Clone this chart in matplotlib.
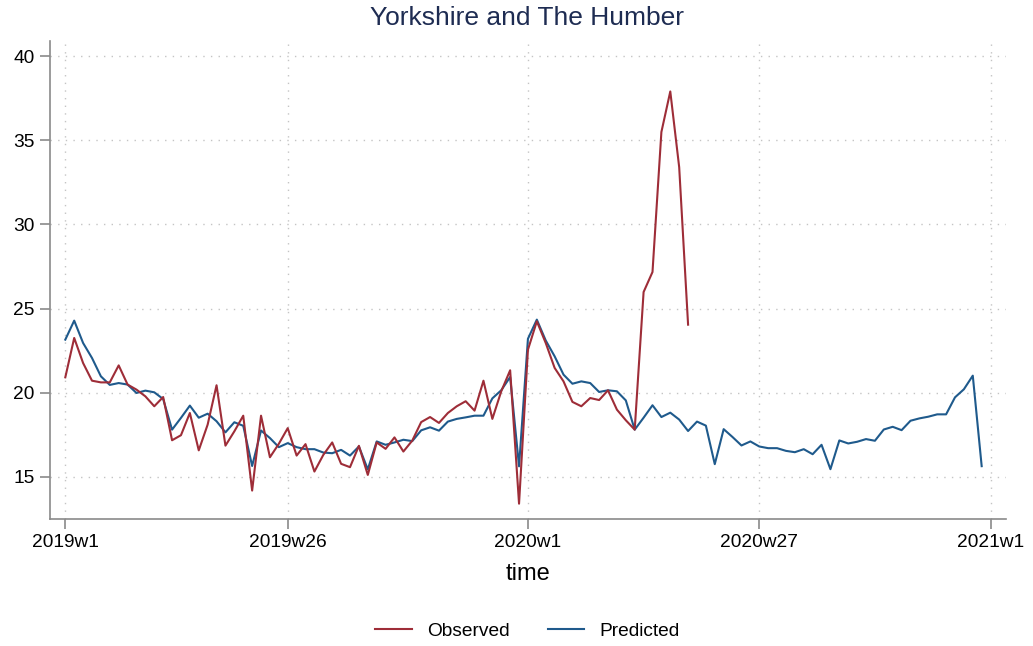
import matplotlib
matplotlib.use("Agg")
import matplotlib.pyplot as plt
import numpy as np

plt.rcParams["font.family"] = ["Liberation Sans", "DejaVu Sans"]

# ── Data: weekly values, index 0 = 2019w1 ─────────────────────────────────────
predicted = [
    23.15, 24.28, 22.95, 22.06, 20.97, 20.46, 20.57, 20.48, 19.98, 20.12,
    20.02, 19.62, 17.80, 18.50, 19.23, 18.51, 18.75, 18.30, 17.64, 18.24,
    18.03, 15.64, 17.75, 17.30, 16.76, 17.00, 16.76, 16.64, 16.64, 16.44,
    16.40, 16.60, 16.26, 16.80, 15.44, 17.10, 16.90, 17.04, 17.20, 17.12,
    17.76, 17.94, 17.74, 18.28, 18.44, 18.53, 18.63, 18.63, 19.66, 20.14,
    20.93, 15.62, 23.20, 24.34, 23.10, 22.16, 21.07, 20.53, 20.67, 20.57,
    20.04, 20.14, 20.08, 19.54, 17.80, 18.51, 19.25, 18.55, 18.81, 18.40,
    17.72, 18.28, 18.04, 15.75, 17.83, 17.36, 16.86, 17.10, 16.80, 16.70,
    16.70, 16.54, 16.46, 16.64, 16.34, 16.90, 15.45, 17.16, 16.98, 17.08,
    17.24, 17.14, 17.81, 17.97, 17.77, 18.33, 18.47, 18.57, 18.71, 18.71,
    19.72, 20.20, 21.01, 15.63,
]
observed = [
    20.91, 23.25, 21.76, 20.71, 20.61, 20.61, 21.62, 20.48, 20.18, 19.78,
    19.19, 19.74, 17.17, 17.47, 18.79, 16.57, 18.10, 20.44, 16.85, 17.70,
    18.63, 14.18, 18.63, 16.16, 16.96, 17.89, 16.26, 16.94, 15.31, 16.30,
    17.04, 15.77, 15.57, 16.84, 15.11, 17.04, 16.66, 17.34, 16.50, 17.15,
    18.25, 18.55, 18.20, 18.79, 19.19, 19.49, 18.93, 20.71, 18.44, 20.08,
    21.33, 13.40, 22.55, 24.24, 22.95, 21.47, 20.67, 19.45, 19.19, 19.68,
    19.56, 20.14, 18.99, 18.36, 17.80, 25.98, 27.17, 35.49, 37.90, 33.40,
    24.04,
]
xtick_pos = [0, 25, 52, 78, 104]
xtick_labels = ["2019w1", "2019w26", "2020w1", "2020w27", "2021w1"]
ytick_pos = [15, 20, 25, 30, 35, 40]

week_pred = np.arange(len(predicted))
week_obs = np.arange(len(observed))

red = "#9e2d38"
blue = "#1f5a8c"
gray = "#8a8a8a"

# ── Plot ──────────────────────────────────────────────────────────────────────
W, H = 1033, 646
fig = plt.figure(figsize=(W / 100, H / 100), dpi=100)
ax = fig.add_axes([50 / W, 1 - 519 / H, (1005.7 - 50) / W, (519 - 41) / H])

ax.plot(week_obs, observed, color=red, lw=1.5, label="Observed", zorder=3)
ax.plot(week_pred, predicted, color=blue, lw=1.5, label="Predicted", zorder=2)

ax.set_xlim(-1.72, 105.7)
ax.set_ylim(12.49, 40.9)
ax.set_xticks(xtick_pos)
ax.set_xticklabels(xtick_labels)
ax.set_yticks(ytick_pos)

ax.grid(True, color="#c4c4c4", lw=1.0, linestyle=(0, (1, 4.5)))
ax.set_axisbelow(True)
for side in ("top", "right"):
    ax.spines[side].set_visible(False)
for side in ("left", "bottom"):
    ax.spines[side].set_color(gray)
    ax.spines[side].set_linewidth(1.2)
ax.tick_params(colors=gray, length=7, width=1.2, labelcolor="black",
               labelsize=13.8, pad=4)

fig.text(527.5 / W, 1 - 18 / H, "Yorkshire and The Humber", ha="center",
         va="center", fontsize=19, color="#1e2c52")
fig.text(527.5 / W, 1 - 574 / H, "time", ha="center", va="center",
         fontsize=17)

fig.legend(loc="center", bbox_to_anchor=(527.5 / W, 1 - 631 / H), ncol=2,
           frameon=False, fontsize=13.8, handlelength=1.9,
           handletextpad=0.8, columnspacing=2.0)

fig.savefig("out.png", dpi=100)
